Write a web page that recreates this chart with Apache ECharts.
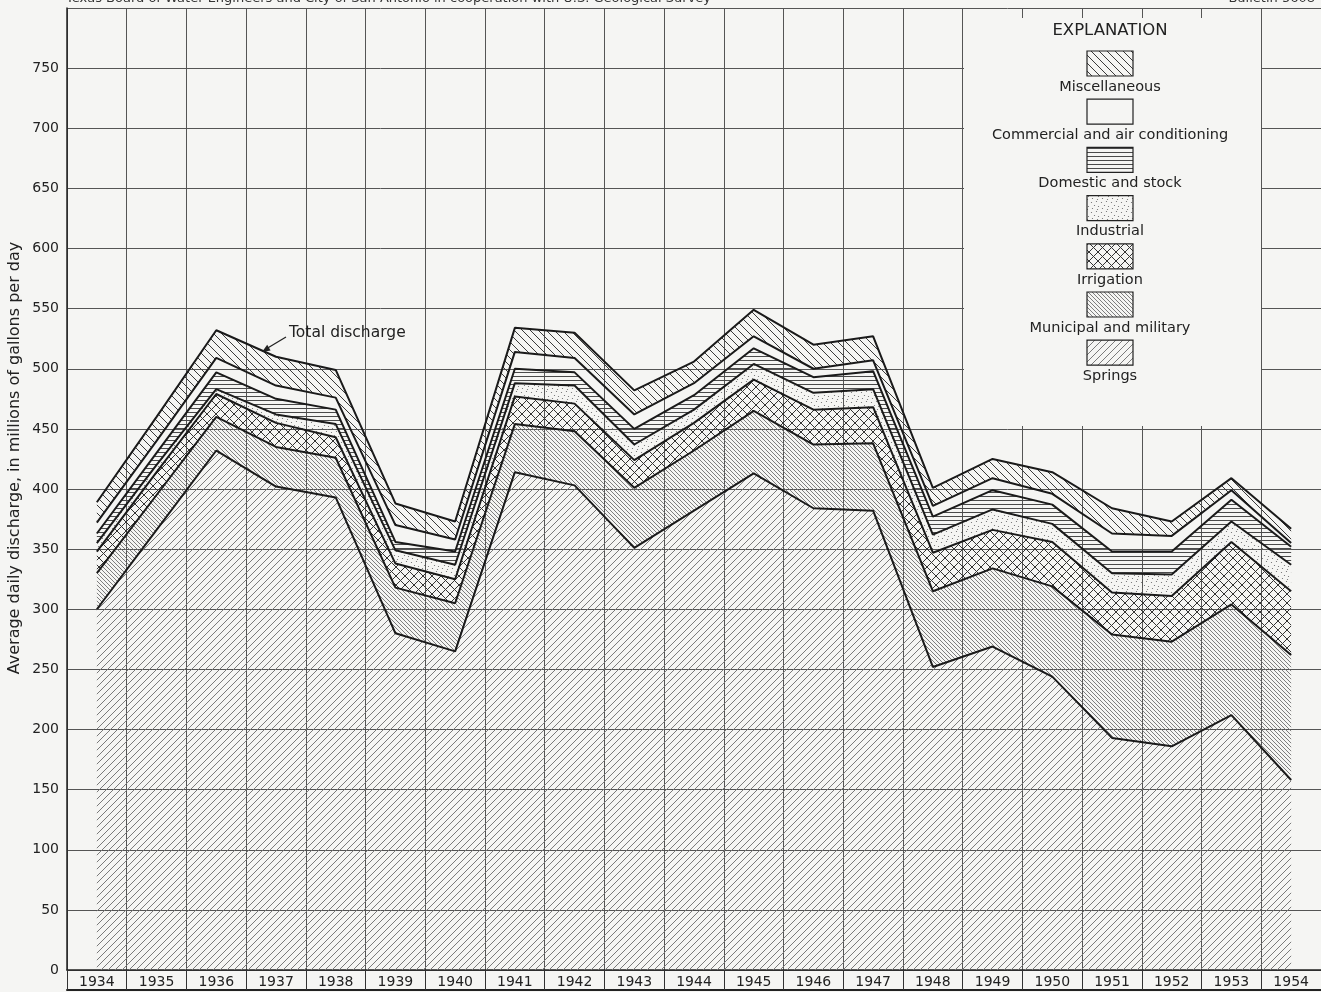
<!DOCTYPE html>
<html>
<head>
<meta charset="utf-8">
<script src="https://cdn.jsdelivr.net/npm/echarts@6/dist/echarts.min.js"></script>
<style>
  html, body { margin: 0; padding: 0; background: #f5f5f3; }
  #chart { width: 1321px; height: 992px; }
</style>
</head>
<body>
<div id="chart"></div>
<script>
// Average daily ground-water discharge by use, millions of gallons per day
const years = ['1934','1935','1936','1937','1938','1939','1940','1941','1942','1943','1944',
               '1945','1946','1947','1948','1949','1950','1951','1952','1953','1954'];

const springs       = [300,366,432,402,393,280,265,414,403,351,382,413,384,382,252,269,244,193,186,212,158];
const municipal     = [ 30, 29, 28, 33, 33, 38, 40, 40, 45, 50, 50, 52, 53, 56, 63, 65, 75, 86, 87, 92,104];
const irrigation    = [ 18, 19, 19, 20, 17, 20, 20, 23, 23, 23, 23, 26, 29, 30, 32, 32, 37, 35, 38, 52, 53];
const industrial    = [  7,  6,  4,  7, 11, 11, 12, 11, 15, 13, 11, 13, 14, 15, 15, 17, 15, 16, 18, 17, 22];
const domestic      = [  8, 10, 14, 13, 12,  7, 11, 12, 11, 13, 12, 13, 13, 15, 15, 16, 16, 18, 19, 18, 15];
const commercial    = [  9, 10, 12, 11, 10, 14, 10, 14, 12, 12, 10, 10,  7,  9,  9, 10,  9, 15, 13,  8,  3];
const miscellaneous = [ 17, 20, 23, 24, 23, 18, 15, 20, 21, 20, 18, 22, 20, 20, 15, 16, 18, 21, 12, 10, 12];

const FONT = 'DejaVu Sans';
const BG = '#f5f5f3';

// ---- hatch / stipple patterns drawn on small tiles ----
function tile(w, h, draw) {
  const c = document.createElement('canvas');
  c.width = w; c.height = h;
  const ctx = c.getContext('2d');
  draw(ctx, w, h);
  return c;
}
function slashes(s, color, lw, forward) {
  return tile(s, s, (ctx) => {
    ctx.strokeStyle = color; ctx.lineWidth = lw;
    ctx.beginPath();
    for (let k = -1; k <= 1; k++) {
      if (forward) { ctx.moveTo(k * s, s); ctx.lineTo(k * s + s, 0); }
      else { ctx.moveTo(k * s, 0); ctx.lineTo(k * s + s, s); }
    }
    ctx.stroke();
  });
}
const patSprings = slashes(7, '#7a7a7a', 1, true);
const patMunicipal = slashes(4, '#707070', 0.9, false);
const patMisc = slashes(8, '#3a3a3a', 1, false);
const patIrrigation = tile(9, 9, (ctx, s) => {
  ctx.strokeStyle = '#333'; ctx.lineWidth = 1;
  ctx.beginPath();
  for (let k = -1; k <= 1; k++) {
    ctx.moveTo(k * s, s); ctx.lineTo(k * s + s, 0);
    ctx.moveTo(k * s, 0); ctx.lineTo(k * s + s, s);
  }
  ctx.stroke();
});
const patDomestic = tile(4, 4, (ctx) => {
  ctx.strokeStyle = '#4a4a4a'; ctx.lineWidth = 1;
  ctx.beginPath(); ctx.moveTo(0, 0.5); ctx.lineTo(4, 0.5); ctx.stroke();
});
const patIndustrial = tile(10, 10, (ctx) => {
  ctx.fillStyle = '#6a6a6a';
  [[1,2],[6,1],[4,5],[8,6],[2,8],[7,9]].forEach(([x, y]) => {
    ctx.beginPath(); ctx.arc(x + 0.5, y + 0.5, 0.6, 0, Math.PI * 2); ctx.fill();
  });
});
const pat = (img) => ({ image: img, repeat: 'repeat' });

// bottom to top
const layers = [
  { name: 'Springs', data: springs, fill: pat(patSprings) },
  { name: 'Municipal and military', data: municipal, fill: pat(patMunicipal) },
  { name: 'Irrigation', data: irrigation, fill: pat(patIrrigation) },
  { name: 'Industrial', data: industrial, fill: pat(patIndustrial) },
  { name: 'Domestic and stock', data: domestic, fill: pat(patDomestic) },
  { name: 'Commercial and air conditioning', data: commercial, fill: 'rgba(0,0,0,0)' },
  { name: 'Miscellaneous', data: miscellaneous, fill: pat(patMisc) }
];

const chart = echarts.init(document.getElementById('chart'), null, { renderer: 'canvas' });

// ---- explanation box (legend) ----
const legendX = 1110, swW = 46, swH = 25;
const legendItems = layers.slice().reverse();
const legendGraphics = [
  { type: 'rect', shape: { x: 964, y: 18, width: 297, height: 408 }, style: { fill: BG }, z: 50 },
  { type: 'text', x: legendX, y: 31, z: 51,
    style: { text: 'EXPLANATION', font: '16.5px "' + FONT + '"', fill: '#222', align: 'center', verticalAlign: 'middle' } }
];
legendItems.forEach((it, i) => {
  const top = 51 + i * 48.2;
  legendGraphics.push({ type: 'rect', z: 51, shape: { x: legendX - swW / 2, y: top, width: swW, height: swH },
    style: { fill: it.fill, stroke: '#222', lineWidth: 1.2 } });
  legendGraphics.push({ type: 'text', x: legendX, y: top + swH + 11, z: 51,
    style: { text: it.name, font: '14.5px "' + FONT + '"', fill: '#222', align: 'center', verticalAlign: 'middle' } });
});

const option = {
  backgroundColor: BG,
  animation: false,
  grid: { left: 67, right: 0, top: 8, bottom: 22 },
  xAxis: [
    {
      type: 'category', data: years, boundaryGap: true, position: 'bottom',
      axisLine: { show: true, lineStyle: { color: '#222', width: 1.5 } },
      axisTick: { show: true, inside: false, length: 20, interval: 0, lineStyle: { color: '#333', width: 1 } },
      axisLabel: { interval: 0, margin: 5, fontFamily: FONT, fontSize: 14, color: '#222' },
      splitLine: { show: true, interval: 0, lineStyle: { color: '#555', width: 1 } }
    },
    {
      type: 'category', data: years, position: 'bottom', offset: 20,
      axisLine: { show: true, lineStyle: { color: '#222', width: 2 } },
      axisTick: { show: false }, axisLabel: { show: false }, splitLine: { show: false }
    }
  ],
  yAxis: {
    type: 'value', min: 0, max: 800, interval: 50,
    axisLine: { show: true, lineStyle: { color: '#222', width: 1.5 } },
    axisTick: { show: false },
    axisLabel: { formatter: (v) => (v === 800 ? '' : String(v)), margin: 8, fontFamily: FONT, fontSize: 14, color: '#222' },
    splitLine: { show: true, lineStyle: { color: '#555', width: 1 } }
  },
  series: layers.map((l) => ({
    name: l.name, type: 'line', stack: 'use', data: l.data,
    symbol: 'none', showSymbol: false,
    lineStyle: { color: '#1a1a1a', width: 2 },
    areaStyle: { color: l.fill, opacity: 1 },
    emphasis: { disabled: true }
  })),
  graphic: [
    // heading along top edge
    { type: 'text', left: 66, top: -8, z: 60,
      style: { text: 'Texas Board of Water Engineers and City of San Antonio in cooperation with U.S. Geological Survey',
               font: '13px "' + FONT + '"', fill: '#333' } },
    { type: 'text', right: 6, top: -8, z: 60,
      style: { text: 'Bulletin 5608', font: '13px "' + FONT + '"', fill: '#333' } },
    // vertical axis title
    { type: 'text', x: 15, y: 458, rotation: Math.PI / 2, z: 60,
      style: { text: 'Average daily discharge, in millions of gallons per day', font: '16px "' + FONT + '"',
               fill: '#222', align: 'center', verticalAlign: 'middle' } },
    // total discharge callout
    { type: 'text', x: 289, y: 333, z: 60,
      style: { text: 'Total discharge', font: '15.5px "' + FONT + '"', fill: '#222', verticalAlign: 'middle' } },
    { type: 'line', z: 60, shape: { x1: 286, y1: 337, x2: 266, y2: 349 }, style: { stroke: '#222', lineWidth: 1.3 } },
    { type: 'polygon', z: 60, shape: { points: [[262, 352], [270.6, 350.4], [267.2, 344.8]] }, style: { fill: '#222' } },
    ...legendGraphics
  ]
};

chart.setOption(option);
</script>
</body>
</html>
